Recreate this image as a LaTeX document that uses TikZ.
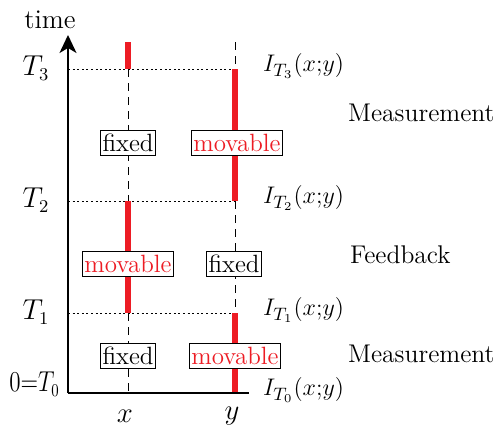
\documentclass[tikz,border=0pt]{standalone}
\usepackage{graphicx}
\usetikzlibrary{arrows.meta}
\definecolor{myred}{RGB}{237,28,36}
\begin{document}
\begin{tikzpicture}[x=0.5pt,y=-0.5pt,
  font=\fontsize{13.5}{16}\selectfont,
  redseg/.style={myred, line width=2.6pt},
  dashseg/.style={black, line width=0.5pt, dash pattern=on 4pt off 3pt},
  dotline/.style={black, line width=0.4pt, dash pattern=on 1pt off 1.3pt},
  axis/.style={black, line width=0.9pt},
  lbox/.style={draw, fill=white, inner xsep=1pt, inner ysep=2pt, line width=0.5pt, font=\fontsize{12.5}{15}\selectfont},
  ilbl/.style={anchor=west, font=\fontsize{12.5}{15}\selectfont},
  phase/.style={anchor=west, font=\fontsize{12.8}{15}\selectfont}
]
\useasboundingbox (0,0) rectangle (498,428);
% axis coordinates
\coordinate (O) at (68,393);
\coordinate (top) at (68,35);
\coordinate (xend) at (249,393);
\coordinate (a3) at (68,69);
\coordinate (a2) at (68,201);
\coordinate (a1) at (68,313);
% x column
\coordinate (x4) at (128,42);
\coordinate (x3) at (128,69);
\coordinate (x2) at (128,201);
\coordinate (x1) at (128,313);
\coordinate (x0) at (128,393);
% y column
\coordinate (y4) at (235,42);
\coordinate (y3) at (235,69);
\coordinate (y2) at (235,201);
\coordinate (y1) at (235,313);
\coordinate (y0) at (235,393);
% dotted time lines
\draw[dotline] (a3) -- (y3);
\draw[dotline] (a2) -- (y2);
\draw[dotline] (a1) -- (y1);
% columns
\draw[redseg] (x4) -- (x3);
\draw[dashseg] (x3) -- (x2);
\draw[redseg] (x2) -- (x1);
\draw[dashseg] (x1) -- (x0);
\draw[dashseg] (y4) -- (y3);
\draw[redseg] (y3) -- (y2);
\draw[dashseg] (y2) -- (y1);
\draw[redseg] (y1) -- (y0);
% axes
\draw[axis, -{Stealth[length=9pt,width=8.5pt,inset=2.5pt]}] (O) -- (top);
\draw[axis] (O) -- (xend);
% boxes
\node[lbox] (bx3) at (128,143) {fixed};
\node[lbox, text=myred] (by3) at (237,143) {movable};
\node[lbox, text=myred] (bx2) at (128,264) {movable};
\node[lbox] (by2) at (234,264) {fixed};
\node[lbox] (bx1) at (128,356) {fixed};
\node[lbox, text=myred] (by1) at (235,356) {movable};
% time labels
\node (time) at (50,20) {time};
\node (t3) at (36,68) {$T_3$};
\node (t2) at (36,200) {$T_2$};
\node (t1) at (36,312) {$T_1$};
\node[anchor=west, inner sep=0pt] (t0) at (9,384) {\scalebox{0.8}[1]{$0{=}T_0$}};
% information labels
\node[ilbl] (i3) at (256,66) {$I_{T_3}(x{;}y)$};
\node[ilbl] (i2) at (256,198) {$I_{T_2}(x{;}y)$};
\node[ilbl] (i1) at (256,310) {$I_{T_1}(x{;}y)$};
\node[ilbl] (i0) at (256,390) {$I_{T_0}(x{;}y)$};
% phase labels
\node[phase] (m2) at (341,113) {Measurement};
\node[phase] (fb) at (343,255) {Feedback};
\node[phase] (m1) at (341,354) {Measurement};
% column labels
\node (xl) at (125,416) {$x$};
\node (yl) at (232,416) {$y$};
\end{tikzpicture}
\end{document}
